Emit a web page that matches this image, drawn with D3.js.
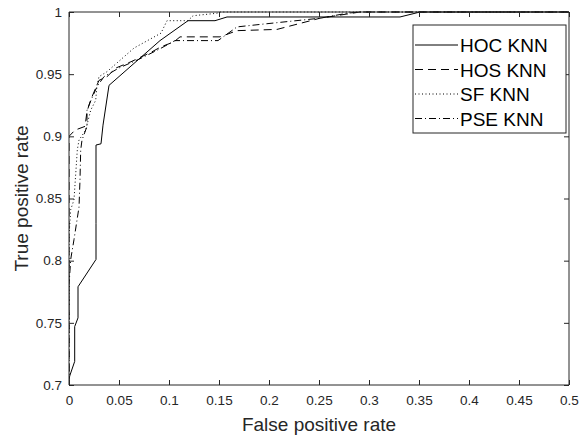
<!DOCTYPE html>
<html>
<head>
<meta charset="utf-8">
<script src="https://cdn.jsdelivr.net/npm/d3@7"></script>
<style>
  body { margin: 0; background: #fff; }
  svg { display: block; font-family: "Liberation Sans", Arial, sans-serif; }
</style>
</head>
<body>
<script>
// ROC 曲线数据 (FPR, TPR)
var seriesNames = ["HOC KNN", "HOS KNN", "SF KNN", "PSE KNN"];
var hocFpr = [0, 0.001, 0.0057, 0.0057, 0.009, 0.009, 0.027, 0.027, 0.027, 0.032, 0.034, 0.040, 0.091, 0.119, 0.146, 0.158, 0.331, 0.351, 0.5];
var hocTpr = [0.705, 0.708, 0.719, 0.747, 0.754, 0.779, 0.801, 0.830, 0.893, 0.894, 0.909, 0.941, 0.977, 0.993, 0.993, 0.996, 0.996, 1, 1];
var hosFpr = [0, 0, 0.006, 0.016, 0.018, 0.022, 0.030, 0.038, 0.047, 0.062, 0.083, 0.092, 0.105, 0.111, 0.151, 0.168, 0.208, 0.251, 0.291, 0.5];
var hosTpr = [0.70, 0.90, 0.905, 0.908, 0.92, 0.93, 0.945, 0.948, 0.955, 0.96, 0.968, 0.972, 0.976, 0.98, 0.98, 0.985, 0.986, 0.995, 1, 1];
var sfFpr = [0, 0, 0.0017, 0.005, 0.0083, 0.010, 0.0167, 0.0217, 0.0267, 0.028, 0.030, 0.038, 0.065, 0.092, 0.098, 0.119, 0.124, 0.148, 0.151, 0.5];
var sfTpr = [0.70, 0.82, 0.841, 0.849, 0.889, 0.897, 0.905, 0.921, 0.929, 0.941, 0.948, 0.952, 0.971, 0.983, 0.993, 0.993, 0.997, 0.999, 1, 1];
var pseFpr = [0, 0, 0.0017, 0.005, 0.010, 0.011, 0.0117, 0.013, 0.018, 0.018, 0.022, 0.028, 0.035, 0.05, 0.07, 0.09, 0.106, 0.149, 0.168, 0.191, 0.251, 0.278, 0.29, 0.5];
var pseTpr = [0.70, 0.78, 0.801, 0.817, 0.843, 0.865, 0.889, 0.897, 0.908, 0.921, 0.929, 0.94, 0.948, 0.955, 0.962, 0.97, 0.977, 0.977, 0.988, 0.99, 0.995, 0.999, 1, 1];
var xTicks = [0, 0.05, 0.1, 0.15, 0.2, 0.25, 0.3, 0.35, 0.4, 0.45, 0.5];
var yTicks = [0.7, 0.75, 0.8, 0.85, 0.9, 0.95, 1];

var allFpr = [hocFpr, hosFpr, sfFpr, pseFpr];
var allTpr = [hocTpr, hosTpr, sfTpr, pseTpr];
var dashes = [null, "8,5", "1,2.5", "7,3,1,3"];  //线型

var width = 579, height = 435;
var pLeft = 69, pRight = 569, pTop = 12, pBottom = 385;  //绘图区
var axisColor = "#262626";

var svg = d3.select("body").append("svg")
    .attr("width", width)
    .attr("height", height);

var x = d3.scaleLinear().domain([0, 0.5]).range([pLeft, pRight]);
var y = d3.scaleLinear().domain([0.7, 1]).range([pBottom, pTop]);

// 曲线
svg.append("clipPath").attr("id", "clip")
    .append("rect").attr("x", pLeft).attr("y", pTop - 1)
    .attr("width", pRight - pLeft).attr("height", pBottom - pTop + 2);

var line = d3.line().x(d => x(d[0])).y(d => y(d[1]));
var g = svg.append("g").attr("clip-path", "url(#clip)");
allFpr.forEach(function (fpr, i) {
    var pts = fpr.map((v, j) => [v, allTpr[i][j]]);
    g.append("path")
        .attr("d", line(pts))
        .attr("fill", "none")
        .attr("stroke", "#000")
        .attr("stroke-width", 1)
        .attr("stroke-dasharray", dashes[i]);
});

// 坐标轴 (MATLAB 风格, 刻度朝内)
var xAxis = svg.append("g").attr("transform", "translate(0," + pBottom + ")")
    .call(d3.axisBottom(x).tickValues(xTicks).tickSize(-5).tickPadding(10).tickFormat(d3.format("")));
var xAxisTop = svg.append("g").attr("transform", "translate(0," + pTop + ")")
    .call(d3.axisTop(x).tickValues(xTicks).tickSize(-5).tickFormat(""));
var yAxis = svg.append("g").attr("transform", "translate(" + pLeft + ",0)")
    .call(d3.axisLeft(y).tickValues(yTicks).tickSize(-5).tickPadding(7).tickFormat(d3.format("")));
var yAxisRight = svg.append("g").attr("transform", "translate(" + pRight + ",0)")
    .call(d3.axisRight(y).tickValues(yTicks).tickSize(-5).tickFormat(""));

[xAxis, xAxisTop, yAxis, yAxisRight].forEach(function (a) {
    a.select(".domain").attr("stroke", axisColor).attr("stroke-width", 1);
    a.selectAll(".tick line").attr("stroke", axisColor);
    a.selectAll(".tick text").attr("fill", axisColor).attr("font-size", 13.5)
        .attr("font-family", "Liberation Sans, Arial, sans-serif");
});
xAxis.select(".domain").attr("d", "M" + pLeft + ",0H" + pRight);
xAxisTop.select(".domain").attr("d", "M" + pLeft + ",0H" + pRight);
yAxis.select(".domain").attr("d", "M0," + pBottom + "V" + pTop);
yAxisRight.select(".domain").attr("d", "M0," + pBottom + "V" + pTop);

// 轴标题
svg.append("text")
    .attr("x", (pLeft + pRight) / 2)
    .attr("y", 431)
    .attr("text-anchor", "middle")
    .attr("font-size", 19)
    .attr("fill", axisColor)
    .text("False positive rate");
svg.append("text")
    .attr("transform", "translate(28," + (pTop + pBottom) / 2 + ") rotate(-90)")
    .attr("text-anchor", "middle")
    .attr("font-size", 19)
    .attr("fill", axisColor)
    .text("True positive rate");

// 图例
var lg = svg.append("g");
lg.append("rect")
    .attr("x", 413).attr("y", 25)
    .attr("width", 153).attr("height", 108)
    .attr("fill", "#fff")
    .attr("stroke", axisColor)
    .attr("stroke-width", 1);
seriesNames.forEach(function (name, i) {
    var cy = 45 + i * 24.5;
    lg.append("line")
        .attr("x1", 415).attr("x2", 458)
        .attr("y1", cy).attr("y2", cy)
        .attr("stroke", "#000")
        .attr("stroke-dasharray", dashes[i]);
    lg.append("text")
        .attr("x", 460).attr("y", cy + 7)
        .attr("font-size", 19)
        .attr("fill", "#000")
        .text(name);
});
</script>
</body>
</html>
